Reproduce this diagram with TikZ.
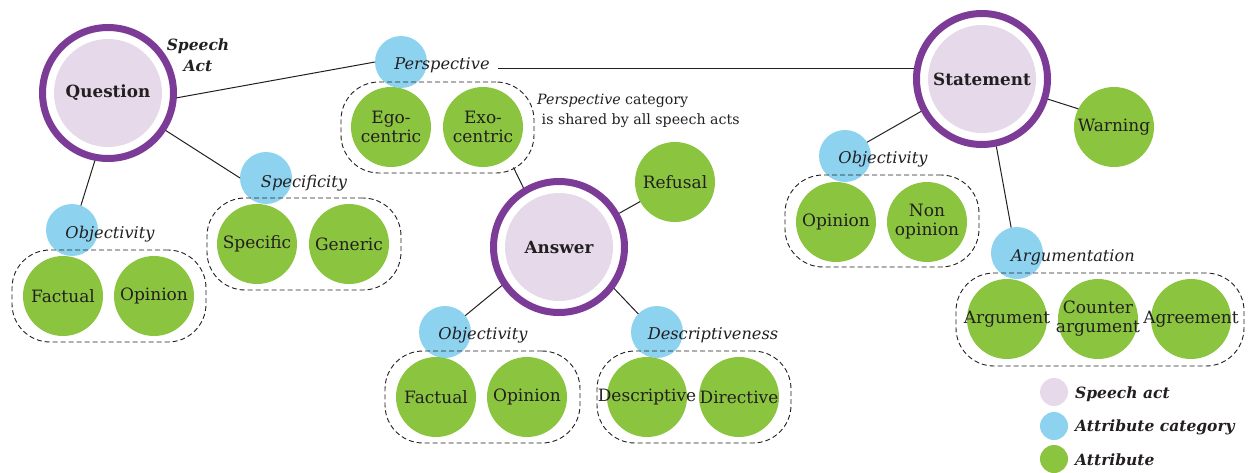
\documentclass[tikz,border=0pt]{standalone}
\usepackage{fontspec}
\setmainfont{DejaVu Serif}
\usetikzlibrary{calc}
\definecolor{purp}{HTML}{7B3B96}
\definecolor{lav}{HTML}{E5D9EA}
\definecolor{sky}{HTML}{8DD3F0}
\definecolor{grn}{HTML}{8BC53F}
\definecolor{ink}{HTML}{231F20}
\begin{document}
\begin{tikzpicture}[x=1pt,y=-1pt,
  ring/.style={circle, draw=purp, line width=7pt, fill=white, minimum size=131pt, inner sep=0pt},
  sact/.style={circle, fill=lav, minimum size=108pt, inner sep=0pt, outer sep=0pt, text=ink, font=\bfseries\fontsize{16.8}{19}\selectfont},
  cat/.style={circle, fill=sky, minimum size=52pt, inner sep=0pt, outer sep=0pt},
  catlbl/.style={text=ink, inner sep=1pt, font=\itshape\fontsize{16.2}{19}\selectfont},
  attrtext/.style={text=ink, inner sep=0pt, align=center, font=\fontsize{17}{19}\selectfont},
  attr/.style={circle, fill=grn, minimum size=80pt, inner sep=0pt, outer sep=0pt, label={[attrtext]center:{#1}}},
  grp/.style={rectangle, draw=ink, dash pattern=on 5pt off 3pt, line width=0.9pt, rounded corners=38pt, inner sep=0pt},
  conn/.style={draw=ink, line width=1pt},
  legdot/.style={circle, minimum size=28pt, inner sep=0pt},
  legtxt/.style={anchor=west, text=ink, inner sep=0pt, font=\bfseries\itshape\fontsize{15.5}{18}\selectfont}
]
\useasboundingbox (0,0) rectangle (1253,472);

% speech acts
\node[ring] (Qr) at (108,93) {};
\node[sact] (Q) at (108,93) {Question};
\node[ring] (Ar) at (559,247) {};
\node[sact] (A) at (559,247) {Answer};
\node[ring] (Sr) at (982,79) {};
\node[sact] (S) at (982,79) {Statement};
\node[text=ink, align=center, inner sep=0pt, font=\bfseries\itshape\fontsize{15.5}{21}\selectfont] (sa) at (198,55) {Speech\\Act};

% attribute categories
\node[cat] (QOc) at (72,230) {};
\node[cat] (Spc) at (266,178) {};
\node[cat] (Pc) at (401,62) {};
\node[cat] (AOc) at (445,332) {};
\node[cat] (ADc) at (657,332) {};
\node[cat] (SOc) at (845,156) {};
\node[cat] (Argc) at (1017,253) {};

% groups
\node[grp, minimum width=194pt, minimum height=92pt] (QOg) at (109,296) {};
\node[grp, minimum width=194pt, minimum height=92pt] (Spg) at (304,244) {};
\node[grp, minimum width=193pt, minimum height=91pt] (Pg) at (437.5,127.5) {};
\node[grp, minimum width=195pt, minimum height=92pt] (AOg) at (482.5,397) {};
\node[grp, minimum width=194pt, minimum height=92pt] (ADg) at (694,397) {};
\node[grp, minimum width=194pt, minimum height=92pt] (SOg) at (882,221) {};
\node[grp, minimum width=288pt, minimum height=93pt] (Argg) at (1100,319.5) {};

% attributes
\node[attr=Factual] (qfact) at (63,296) {};
\node[attr=Opinion] (qopin) at (154,296) {};
\node[attr=Specific] (spec) at (257,244) {};
\node[attr=Generic] (gene) at (349,244) {};
\node[attr={Ego-\\centric}] (ego) at (391,127) {};
\node[attr={Exo-\\centric}] (exo) at (483,127) {};
\node[attr=Factual] (afact) at (436,397) {};
\node[attr=Opinion] (aopin) at (527,397) {};
\node[attr=Descriptive] (desc) at (647,397) {};
\node[attr=Directive] (dire) at (739,397) {};
\node[attr=Refusal] (refu) at (675,182) {};
\node[attr=Warning] (warn) at (1114,127) {};
\node[attr=Opinion] (sopin) at (836,222) {};
\node[attr={Non\\opinion}] (snon) at (927,222) {};
\node[attr=Argument] (argu) at (1007,319) {};
\node[attr={Counter\\argument}] (coun) at (1098,319) {};
\node[attr=Agreement] (agre) at (1191,319) {};

% category labels
\node[catlbl] (QOl) at (110,234) {Objectivity};
\node[catlbl] (Spl) at (304,183) {Specificity};
\node[catlbl] (Pl) at (442,65) {Perspective};
\node[catlbl] (AOl) at (483,335) {Objectivity};
\node[catlbl] (ADl) at (713,335) {Descriptiveness};
\node[catlbl] (SOl) at (883,159) {Objectivity};
\node[catlbl] (Argl) at (1073,257) {Argumentation};

% annotation
\node[anchor=west, align=left, text=ink, inner sep=0pt, font=\fontsize{14.2}{20}\selectfont] (note) at (537,111) {\textit{Perspective} category\\\ is shared by all speech acts};

% connectors
\coordinate (pe) at ([xshift=7pt]Pl.east);
\draw[conn] (Qr.-4) -- (Pc.180);
\draw[conn] (pe |- Sr.171) -- (Sr.171);
\draw[conn] (Qr.259) -- (QOc.70);
\draw[conn] (Qr.-33) -- (Spc.180);
\draw[conn] (Ar.121) -- ($(Pg.south east)+(-21,-6)$);
\draw[conn] (Ar) -- (refu);
\draw[conn] (Ar.214) -- (AOc.39);
\draw[conn] (Ar.-37.5) -- (ADc.136);
\draw[conn] (Sr.-17.6) -- (warn.153);
\draw[conn] (Sr.208) -- (SOc.32.5);
\draw[conn] (Sr.282) -- (Argc.103.5);

% legend
\node[legdot, fill=lav] (l1) at (1054,392) {};
\node[legdot, fill=sky] (l2) at (1054,426) {};
\node[legdot, fill=grn] (l3) at (1054,459) {};
\node[legtxt] (t1) at (1075,394) {Speech act};
\node[legtxt] (t2) at (1075,427) {Attribute category};
\node[legtxt] (t3) at (1075,460) {Attribute};
\end{tikzpicture}
\end{document}
